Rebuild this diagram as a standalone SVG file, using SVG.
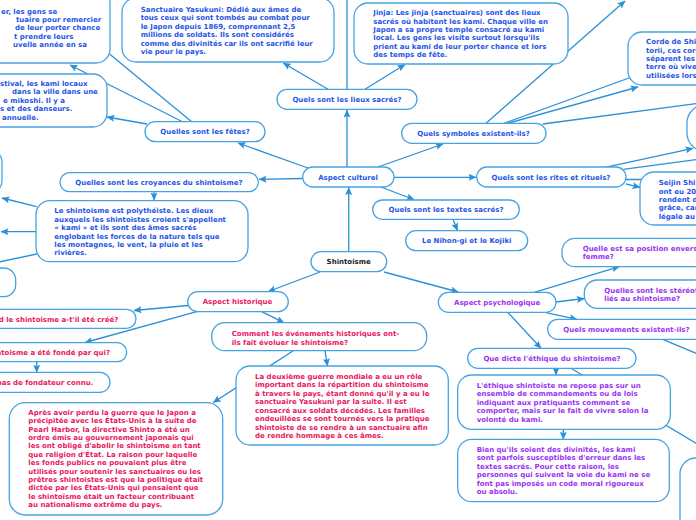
<svg xmlns="http://www.w3.org/2000/svg" width="696" height="520" viewBox="0 0 696 520">
<style>
.b{fill:#fff;stroke:#45a3e2;stroke-width:1.3}
.t{font-family:"DejaVu Sans",Verdana,sans-serif;font-weight:bold;font-size:7px}
.bl{fill:#1f55e6}.pk{fill:#e8175d}.pu{fill:#9b32f2}.bk{fill:#1a1a1a}
.m{text-anchor:middle}.e{text-anchor:end}
.c{stroke:#2a90d8;stroke-width:1.3;fill:none}
.a{marker-end:url(#ar)}
</style>
<defs>
<marker id="ar" markerUnits="userSpaceOnUse" markerWidth="8" markerHeight="7" refX="7.5" refY="3.5" orient="auto">
<path d="M0,0 L8,3.5 L0,7 L1.5,3.5 z" fill="#2a90d8"/>
</marker>
</defs>
<rect width="696" height="520" fill="#fff"/>
<g id="connectors">
<path class="c a" d="M183,122 L70,65"/>
<path class="c" d="M192,122 L95,42"/>
<path class="c a" d="M147,124 L107,117"/>
<path class="c a" d="M308,168 L238,143"/>
<path class="c a" d="M347,167 L347,110"/>
<path class="c a" d="M378,167 L443,144"/>
<path class="c a" d="M302.7,178.5 L259,179.3"/>
<path class="c a" d="M394,177.3 L476,177.3"/>
<path class="c a" d="M380.7,187 L414,199.5"/>
<path class="c a" d="M328,89.3 L283.3,63"/>
<path class="c a" d="M365,89.3 L405,64.5"/>
<path class="c" d="M347,89.3 L347,-5"/>
<path class="c a" d="M486,123.3 L625,1"/>
<path class="c" d="M504,123.3 L640,74"/>
<path class="c a" d="M507.7,123.3 L638,87"/>
<path class="c" d="M542.7,124 L700,103"/>
<path class="c a" d="M605,167.3 L693,148.3"/>
<path class="c" d="M623.3,169.3 L700,159"/>
<path class="c" d="M626,179.5 L660,179.5"/>
<path class="c a" d="M626,184 L640,187.3"/>
<path class="c a" d="M154,191.7 L154,200"/>
<path class="c a" d="M36.7,206.7 L2,198"/>
<path class="c a" d="M36,231.7 L1,231.7"/>
<path class="c" d="M36.7,254 L-20,266"/>
<path class="c a" d="M348.7,251.7 L348.7,187.5"/>
<path class="c a" d="M320,272 L268.3,291.5"/>
<path class="c a" d="M384,272 L458.3,292"/>
<path class="c a" d="M453,219.3 L457.5,230.5"/>
<path class="c a" d="M188,305.5 L134,310.5"/>
<path class="c a" d="M196.7,311.7 L85,342.5"/>
<path class="c a" d="M36.7,361.7 L36.7,372.3"/>
<path class="c a" d="M261.7,311.7 L284,322.7"/>
<path class="c a" d="M325,350.7 L327.5,366"/>
<path class="c a" d="M293.3,350.7 L213.3,402.5"/>
<path class="c a" d="M534.3,292.3 L619.3,266.7"/>
<path class="c a" d="M556,302 L584.3,298.5"/>
<path class="c a" d="M546,312.7 L577,319.3"/>
<path class="c a" d="M507.7,312.3 L541,348.3"/>
<path class="c" d="M662.7,339.3 L700,355"/>
<path class="c a" d="M556,368.3 L556,375"/>
<path class="c" d="M571,368.3 L700,445.7"/>
<path class="c a" d="M563.3,429.3 L563.3,439.3"/>
</g>
<g id="n-nouvelan"><rect class="b" x="-20" y="-12" width="130" height="75" rx="14"/>
<text class="t bl"><tspan x="1" y="13.6">er, les gens se</tspan><tspan x="16" y="22">tuaire pour remercier</tspan><tspan x="15" y="30.2">de leur porter chance</tspan><tspan x="14" y="38.6">t prendre leurs</tspan><tspan x="13" y="47.2">uvelle année en sa</tspan></text></g>
<g id="n-festival"><rect class="b" x="-20" y="74" width="127" height="53" rx="14"/>
<text class="t bl"><tspan x="0" y="86">stival, les kami locaux</tspan><tspan x="12" y="94.3">dans la ville dans une</tspan><tspan x="3" y="102.6">e mikoshi. Il y a</tspan><tspan x="0" y="111.2">s et des danseurs.</tspan><tspan x="2" y="120.2">annuelle.</tspan></text></g>
<g id="n-yasukuni"><rect class="b" x="122" y="-2" width="212" height="64" rx="14"/>
<text class="t bl"><tspan x="140.7" y="11.9">Sanctuaire Yasukuni: Dédié aux âmes de</tspan><tspan x="140.7" y="20.3">tous ceux qui sont tombés au combat pour</tspan><tspan x="140.7" y="28.7">le Japon depuis 1869, comprennant 2,5</tspan><tspan x="140.7" y="37.1">millions de soldats. Ils sont considérés</tspan><tspan x="140.7" y="45.6">comme des divinités car ils ont sacrifié leur</tspan><tspan x="140.7" y="54.1">vie pour le pays.</tspan></text></g>
<g id="n-jinja"><rect class="b" x="354" y="3" width="214" height="61" rx="14"/>
<text class="t bl"><tspan x="373.3" y="15.3">Jinja: Les jinja (sanctuaires) sont des lieux</tspan><tspan x="373.3" y="23.6">sacrés où habitent les kami. Chaque ville en</tspan><tspan x="373.3" y="31.9">Japon a sa propre temple consacré au kami</tspan><tspan x="373.3" y="40.2">local. Les gens les visite surtout lorsqu'ils</tspan><tspan x="373.3" y="48.5">prient au kami de leur porter chance et lors</tspan><tspan x="373.3" y="56.8">des temps de fête.</tspan></text></g>
<g id="n-corde"><rect class="b" x="628" y="32" width="90" height="53" rx="14"/>
<text class="t bl"><tspan x="646" y="44.3">Corde de Shi</tspan><tspan x="646" y="52.6">torii, ces cord</tspan><tspan x="646" y="61">séparent les</tspan><tspan x="646" y="69.4">terre où viven</tspan><tspan x="646" y="77.8">utilisées lors</tspan></text></g>
<g id="n-right1"><rect class="b" x="687" y="105" width="40" height="46" rx="18"/></g>
<g id="n-seijin"><rect class="b" x="640" y="172" width="80" height="53" rx="14"/>
<text class="t bl"><tspan x="658.7" y="185.3">Seijin Shi</tspan><tspan x="658.7" y="193.6">ont eu 20</tspan><tspan x="658.7" y="202">rendent d</tspan><tspan x="658.7" y="210.3">grâce, car</tspan><tspan x="658.7" y="218.7">légale au</tspan></text></g>
<g id="n-lieux"><rect class="b" x="277" y="89.3" width="140" height="20" rx="10"/><text class="t bl m" x="347" y="101.9">Quels sont les lieux sacrés?</text></g>
<g id="n-fetes"><rect class="b" x="145" y="121.7" width="120" height="20" rx="10"/><text class="t bl m" x="205" y="134.3">Quelles sont les fêtes?</text></g>
<g id="n-symboles"><rect class="b" x="401.7" y="123.3" width="144.3" height="20" rx="10"/><text class="t bl m" x="473.5" y="136">Quels symboles existent-ils?</text></g>
<g id="n-culturel"><rect class="b" x="302.7" y="167" width="91.3" height="20" rx="10"/><text class="t bl m" x="348" y="179.9">Aspect culturel</text></g>
<g id="n-croyances"><rect class="b" x="60" y="172.7" width="198.3" height="19" rx="9.5"/><text class="t bl m" x="159" y="185.3">Quelles sont les croyances du shintoisme?</text></g>
<g id="n-polytheiste"><rect class="b" x="36" y="200.7" width="212" height="61" rx="14"/>
<text class="t bl"><tspan x="54.3" y="213.3">Le shintoisme est polythéiste. Les dieux</tspan><tspan x="54.3" y="221.7">auxquels les shintoistes croient s'appellent</tspan><tspan x="54.3" y="230.1">« kami » et ils sont des âmes sacrés</tspan><tspan x="54.3" y="238.5">englobant les forces de la nature tels que</tspan><tspan x="54.3" y="246.9">les montagnes, le vent, la pluie et les</tspan><tspan x="54.3" y="255.3">rivières.</tspan></text></g>
<g id="n-left1"><rect class="b" x="-40" y="150" width="42" height="43" rx="12"/></g>
<g id="n-left2"><rect class="b" x="-30" y="268" width="45.7" height="28.7" rx="12"/></g>
<g id="n-rites"><rect class="b" x="476.7" y="167" width="149.3" height="20" rx="10"/><text class="t bl m" x="551" y="179.9">Quels sont les rites et rituels?</text></g>
<g id="n-textes"><rect class="b" x="372.7" y="200" width="146.6" height="19.3" rx="9.6"/><text class="t bl m" x="446" y="212.3">Quels sont les textes sacrés?</text></g>
<g id="n-nihon"><rect class="b" x="405.7" y="230.7" width="122" height="20" rx="10"/><text class="t bl m" x="466.7" y="243.3">Le Nihon-gi et le Kojiki</text></g>
<g id="n-shintoisme"><rect class="b" x="311" y="251.7" width="75.7" height="20" rx="10"/><text class="t bk m" x="348.7" y="264.2">Shintoisme</text></g>
<g id="n-historique"><rect class="b" x="187.7" y="291.7" width="100.6" height="20" rx="10"/><text class="t pk m" x="237.5" y="304.3">Aspect historique</text></g>
<g id="n-psychologique"><rect class="b" x="438.3" y="292.3" width="117.7" height="20" rx="10"/><text class="t pu m" x="497.2" y="305">Aspect psychologique</text></g>
<g id="n-quand"><rect class="b" x="-40" y="309.3" width="176" height="19" rx="9.5"/><text class="t pk e" x="118.3" y="322">d le shintoisme a-t'il été créé?</text></g>
<g id="n-fonde"><rect class="b" x="-40" y="342.7" width="166.7" height="19" rx="9.5"/><text class="t pk e" x="110" y="355.4">ntoisme a été fondé par qui?</text></g>
<g id="n-fondateur"><rect class="b" x="-40" y="372.3" width="150" height="20" rx="10"/><text class="t pk e" x="93.3" y="385.3">pas de fondateur connu.</text></g>
<g id="n-comment"><rect class="b" x="211.7" y="322.7" width="215" height="28" rx="13"/>
<text class="t pk"><tspan x="231.7" y="336">Comment les événements historiques ont-</tspan><tspan x="231.7" y="345">ils fait évoluer le shintoisme?</tspan></text></g>
<g id="n-deuxieme"><rect class="b" x="236" y="366" width="212.3" height="79" rx="14"/>
<text class="t pk"><tspan x="255" y="378.6">La deuxième guerre mondiale a eu un rôle</tspan><tspan x="255" y="387.1">important dans la répartition du shintoisme</tspan><tspan x="255" y="395.6">à travers le pays, étant donné qu'il y a eu le</tspan><tspan x="255" y="404">sanctuaire Yasukuni par la suite. Il est</tspan><tspan x="255" y="412.5">consacré aux soldats décédés. Les familles</tspan><tspan x="255" y="421">endeuillées se sont tournés vers la pratique</tspan><tspan x="255" y="429.5">shintoiste de se rendre à un sanctuaire afin</tspan><tspan x="255" y="437.9">de rendre hommage à ces âmes.</tspan></text></g>
<g id="n-apres"><rect class="b" x="9.3" y="402.7" width="213.4" height="112.3" rx="16"/>
<text class="t pk"><tspan x="28.3" y="414.9">Après avoir perdu la guerre que le Japon a</tspan><tspan x="28.3" y="423.3">précipitée avec les États-Unis à la suite de</tspan><tspan x="28.3" y="431.6">Pearl Harbor, la directive Shinto a été un</tspan><tspan x="28.3" y="440">ordre émis au gouvernement japonais qui</tspan><tspan x="28.3" y="448.4">les ont obligé d'abolir le shintoisme en tant</tspan><tspan x="28.3" y="456.8">que religion d'État. La raison pour laquelle</tspan><tspan x="28.3" y="465.1">les fonds publics ne pouvaient plus être</tspan><tspan x="28.3" y="473.5">utilisés pour soutenir les sanctuaires ou les</tspan><tspan x="28.3" y="481.9">prêtres shintoistes est que la politique était</tspan><tspan x="28.3" y="490.2">dictée par les États-Unis qui pensaient que</tspan><tspan x="28.3" y="498.6">le shintoïsme était un facteur contribuant</tspan><tspan x="28.3" y="507">au nationalisme extrême du pays.</tspan></text></g>
<g id="n-position"><rect class="b" x="562" y="238.3" width="150" height="28.4" rx="13"/>
<text class="t pu"><tspan x="582.7" y="250.9">Quelle est sa position envers la</tspan><tspan x="582.7" y="259.3">femme?</tspan></text></g>
<g id="n-stereotypes"><rect class="b" x="584.3" y="280" width="130" height="28.3" rx="13"/>
<text class="t pu"><tspan x="604.3" y="292.6">Quelles sont les stéréotypes</tspan><tspan x="604.3" y="300.9">liés au shintoisme?</tspan></text></g>
<g id="n-mouvements"><rect class="b" x="547.7" y="319.3" width="160" height="20" rx="10"/><text class="t pu" x="563.3" y="332.1">Quels mouvements existent-ils?</text></g>
<g id="n-ethique-q"><rect class="b" x="467.7" y="348.3" width="168.3" height="20" rx="10"/><text class="t pu m" x="552" y="360.8">Que dicte l'éthique du shintoisme?</text></g>
<g id="n-ethique"><rect class="b" x="457.7" y="375" width="212.6" height="54.3" rx="14"/>
<text class="t pu"><tspan x="476.7" y="387.6">L'éthique shintoïste ne repose pas sur un</tspan><tspan x="476.7" y="395.9">ensemble de commandements ou de lois</tspan><tspan x="476.7" y="404.6">indiquant aux pratiquants comment se</tspan><tspan x="476.7" y="413.1">comporter, mais sur le fait de vivre selon la</tspan><tspan x="476.7" y="421.6">volonté du kami.</tspan></text></g>
<g id="n-bien"><rect class="b" x="457.7" y="439.3" width="211.6" height="62.4" rx="14"/>
<text class="t pu"><tspan x="476.7" y="451.9">Bien qu'ils soient des divinités, les kami</tspan><tspan x="476.7" y="460.3">sont parfois susceptibles d'erreur dans les</tspan><tspan x="476.7" y="468.9">textes sacrés. Pour cette raison, les</tspan><tspan x="476.7" y="477.3">personnes qui suivent la voie du kami ne se</tspan><tspan x="476.7" y="485.9">font pas imposés un code moral rigoureux</tspan><tspan x="476.7" y="494.3">ou absolu.</tspan></text></g>
<g id="n-bottomright"><rect class="b" x="680" y="458" width="60" height="80" rx="16"/></g>
</svg>
